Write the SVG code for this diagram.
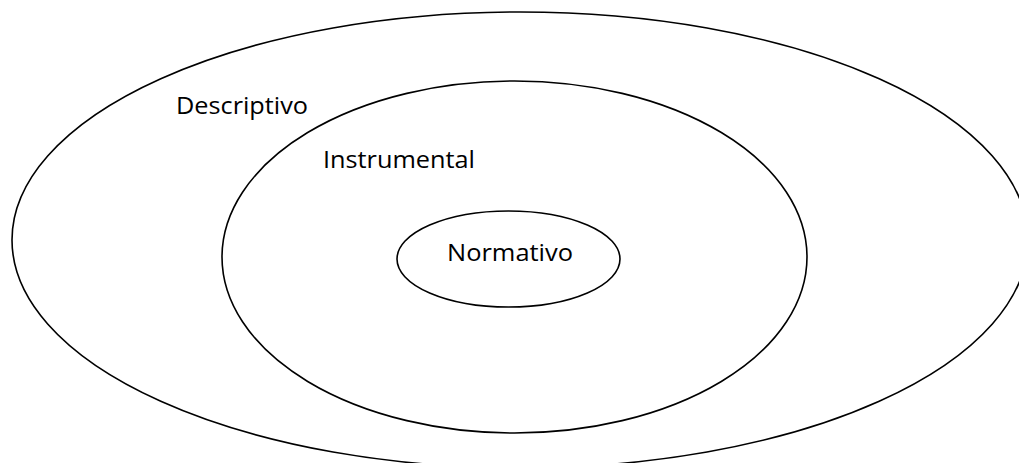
<svg xmlns="http://www.w3.org/2000/svg" width="1019" height="463" viewBox="0 0 1019 463">
<style>
.ring{fill:none;stroke:#000;stroke-width:1.6}
.lbl{font-family:"Open Sans","Liberation Sans",sans-serif;font-size:24px;fill:#000}
</style>
<rect width="1019" height="463" fill="#fff"/>
<g id="descriptivo">
<ellipse class="ring" cx="520" cy="240" rx="508" ry="228"/>
<text class="lbl" x="176" y="114" textLength="132" lengthAdjust="spacingAndGlyphs">Descriptivo</text>
</g>
<g id="instrumental">
<ellipse class="ring" cx="514.5" cy="257" rx="292.5" ry="176"/>
<text class="lbl" x="323" y="168" textLength="152" lengthAdjust="spacingAndGlyphs">Instrumental</text>
</g>
<g id="normativo">
<ellipse class="ring" cx="508.5" cy="259" rx="111.5" ry="48"/>
<text class="lbl" x="447" y="261" textLength="126" lengthAdjust="spacingAndGlyphs">Normativo</text>
</g>
<g id="connectors"/>
</svg>
